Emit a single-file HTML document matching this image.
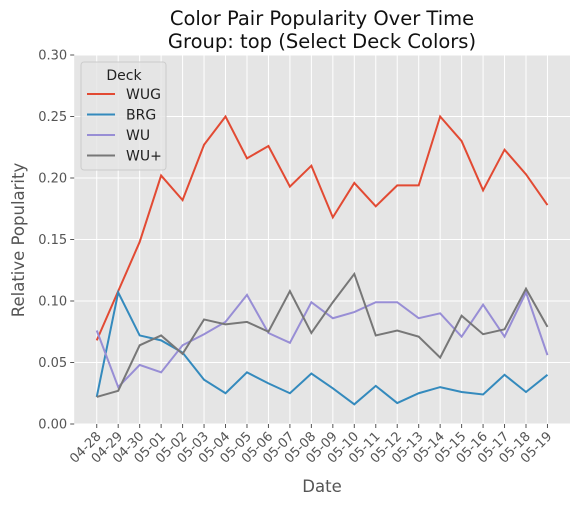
<!DOCTYPE html>
<html><head><meta charset="utf-8"><style>
body{margin:0;background:#fff;font-family:"Liberation Sans","DejaVu Sans",sans-serif}
</style></head><body>
<svg id="chart" width="580" height="506" xmlns="http://www.w3.org/2000/svg" font-family="DejaVu Sans, Liberation Sans, sans-serif"></svg>
<script>
const dates=["04-28","04-29","04-30","05-01","05-02","05-03","05-04","05-05","05-06","05-07","05-08","05-09","05-10","05-11","05-12","05-13","05-14","05-15","05-16","05-17","05-18","05-19"];
const wug=[0.068,0.108,0.148,0.202,0.182,0.227,0.250,0.216,0.226,0.193,0.210,0.168,0.196,0.177,0.194,0.194,0.250,0.230,0.190,0.223,0.203,0.178];
const brg=[0.022,0.107,0.072,0.068,0.058,0.036,0.025,0.042,0.033,0.025,0.041,0.029,0.016,0.031,0.017,0.025,0.030,0.026,0.024,0.040,0.026,0.040];
const wu=[0.076,0.030,0.048,0.042,0.064,0.073,0.083,0.105,0.074,0.066,0.099,0.086,0.091,0.099,0.099,0.086,0.090,0.071,0.097,0.071,0.107,0.056];
const wuplus=[0.022,0.027,0.064,0.072,0.057,0.085,0.081,0.083,0.075,0.108,0.074,0.099,0.122,0.072,0.076,0.071,0.054,0.088,0.073,0.077,0.110,0.079];
const yTicks=[0,0.05,0.10,0.15,0.20,0.25,0.30];
const seriesNames=["WUG","BRG","WU","WU+"];
const seriesColors=["#E24A33","#348ABD","#988ED5","#777777"];
const L=74.2,R=570,T=55,B=424;
const step=(R-L)/(dates.length-1+2*1.05);
const x=i=>L+step*(1.05+i);
const y=v=>B-(v/0.30)*(B-T);
const svg=document.getElementById('chart');
const NS="http://www.w3.org/2000/svg";
function mk(tag,attrs,parent){const e=document.createElementNS(NS,tag);for(const k in attrs)e.setAttribute(k,attrs[k]);(parent||svg).appendChild(e);return e;}
let bg=mk('rect',{x:L,y:T,width:R-L,height:B-T,fill:'#E5E5E5'});


yTicks.forEach(v=>{
 const g=mk('line',{x1:L,x2:R,y1:y(v),y2:y(v),stroke:'#fff','stroke-width':1});
 
 
 const tk=mk('line',{x1:L-4,x2:L,y1:y(v),y2:y(v),stroke:'#555'});
 
 
 const t=mk('text',{x:L-7,y:y(v)+4.5,'text-anchor':'end','font-size':13,fill:'#555'});
 t.textContent=v.toFixed(2);
 
 
});
dates.forEach((d,i)=>{
 const g=mk('line',{x1:x(i),x2:x(i),y1:T,y2:B,stroke:'#fff','stroke-width':1});
 
 
 const tk=mk('line',{x1:x(i),x2:x(i),y1:B,y2:B+4,stroke:'#555'});
 
 
 const t=mk('text',{x:x(i)+5,y:B+13,'text-anchor':'end','font-size':13,fill:'#555',transform:`rotate(-45 ${x(i)+5} ${B+13})`});
 t.textContent=d;
 
 
});
[wug,brg,wu,wuplus].forEach((s,k)=>{
 const p=mk('polyline',{points:s.map((v,i)=>x(i)+','+y(v)).join(' '),fill:'none',stroke:seriesColors[k],'stroke-width':2});
 
 
});
const lg=mk('g',{});


mk('rect',{x:81,y:62,width:85,height:108,rx:3,fill:'#E5E5E5',stroke:'#ccc','fill-opacity':0.8},lg);
const lt=mk('text',{x:124,y:80,'text-anchor':'middle','font-size':14,fill:'#222'},lg);
lt.textContent='Deck';


seriesNames.forEach((n,k)=>{
 const yy=94+k*20.5;
 const e=mk('g',{},lg);
 
 
 mk('line',{x1:87,x2:115,y1:yy,y2:yy,stroke:seriesColors[k],'stroke-width':2},e);
 const t=mk('text',{x:126,y:yy+5,'font-size':14,fill:'#222'},e);
 t.textContent=n;
});
const t1=mk('text',{x:322,y:25,'text-anchor':'middle','font-size':19.5,fill:'#111'});
t1.textContent='Color Pair Popularity Over Time';


const t2=mk('text',{x:322,y:48,'text-anchor':'middle','font-size':19.5,fill:'#111'});
t2.textContent='Group: top (Select Deck Colors)';


const xl=mk('text',{x:322,y:492,'text-anchor':'middle','font-size':16.5,fill:'#555'});
xl.textContent='Date';


const yl=mk('text',{x:24,y:240,'text-anchor':'middle','font-size':16.5,fill:'#555',transform:'rotate(-90 24 240)'});
yl.textContent='Relative Popularity';


</script>
</body></html>
